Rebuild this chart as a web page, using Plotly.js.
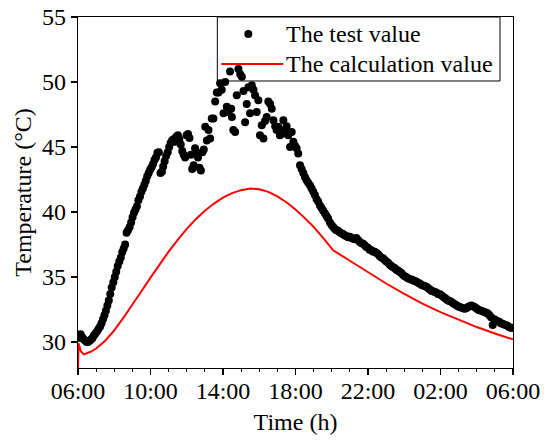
<!DOCTYPE html>
<html>
<head>
<meta charset="utf-8">
<script src="https://cdn.plot.ly/plotly-3.0.1.min.js"></script>
<style>html,body{margin:0;padding:0;background:#fff;}#chart{width:544px;height:448px;}</style>
</head>
<body>
<div id="chart"></div>
<script>
// Hours elapsed since 06:00
const testHours = [0.02,0.08,0.14,0.2,0.26,0.32,0.4,0.48,0.56,0.64,0.72,0.8,0.88,0.96,1.05,1.13,1.22,1.3,1.38,1.46,1.54,1.62,1.7,1.78,1.86,1.95,2.03,2.11,2.19,2.28,2.36,2.44,2.52,2.6,2.68,2.76,2.85,2.93,3.01,3.09,3.17,3.25,3.33,3.42,3.5,3.58,3.66,3.74,3.82,3.9,3.98,4.06,4.14,4.22,4.3,4.38,4.46,4.55,4.63,4.7,4.78,4.86,4.95,5.03,5.11,5.19,5.27,5.35,5.43,5.51,5.59,5.67,5.75,5.83,5.91,5.99,6.07,6.15,6.23,6.3,6.38,6.46,6.54,6.62,6.7,6.78,6.86,6.94,7.02,7.11,7.2,7.29,7.38,7.47,7.57,7.66,7.75,7.84,7.93,8.03,8.12,8.21,8.3,8.39,8.45,8.49,8.57,8.67,8.76,8.85,8.95,9.04,9.13,9.22,9.31,9.4,9.49,9.59,9.68,9.77,9.86,9.95,10.04,10.14,10.23,10.32,10.41,10.5,10.6,10.69,10.78,10.88,10.96,11.05,11.14,11.24,11.33,11.42,11.51,11.6,11.7,11.79,11.88,11.97,12.06,12.15,12.25,12.34,12.43,12.52,12.61,12.7,12.8,12.89,12.98,13.07,13.16,13.25,13.35,13.44,13.53,13.62,13.71,13.8,13.9,13.99,14.08,14.17,14.26,14.35,14.44,14.54,14.63,14.72,14.81,14.9,15.0,15.09,15.18,15.27,15.36,15.45,15.55,15.64,15.73,15.82,15.91,16.0,16.09,16.19,16.28,16.37,16.47,16.56,16.65,16.74,16.83,16.92,17.01,17.11,17.2,17.29,17.38,17.47,17.56,17.65,17.74,17.84,17.93,18.02,18.11,18.2,18.3,18.39,18.48,18.57,18.66,18.76,18.85,18.94,19.03,19.12,19.22,19.31,19.4,19.49,19.58,19.68,19.77,19.86,19.95,20.04,20.13,20.22,20.32,20.41,20.5,20.59,20.68,20.78,20.87,20.96,21.05,21.14,21.24,21.33,21.42,21.51,21.6,21.7,21.79,21.88,21.97,22.06,22.15,22.25,22.34,22.43,22.52,22.61,22.7,22.79,22.88,22.97,23.06,23.15,23.24,23.33,23.42,23.51,23.6,23.69,23.78,23.87,23.96];
const testValues = [30.3,30.5,30.6,30.4,30.3,30.2,30.1,30.0,30.0,30.1,30.2,30.3,30.5,30.65,30.8,31.0,31.2,31.45,31.75,32.05,32.4,32.8,33.2,33.7,34.2,34.6,35.0,35.4,35.85,36.2,36.5,36.9,37.2,37.5,38.4,38.6,38.85,39.2,39.6,39.95,40.2,40.45,40.9,41.2,41.55,41.8,42.1,42.4,42.75,43.0,43.25,43.45,43.7,44.0,44.2,44.55,44.6,43.0,43.1,43.5,43.9,44.3,44.6,45.0,45.3,45.5,45.6,45.4,45.8,45.9,45.6,45.2,44.7,44.4,44.2,45.9,46.0,45.7,44.4,43.3,43.6,44.9,44.5,44.2,43.4,43.2,44.6,44.8,46.55,45.5,46.3,45.65,47.2,47.2,48.5,49.2,49.2,49.9,49.4,47.6,50.0,48.1,47.7,50.8,47.95,47.3,46.3,46.15,48.98,51.0,50.6,50.4,49.3,46.9,48.3,49.6,47.6,49.75,49.4,48.98,47.7,48.6,45.9,46.67,45.65,47.0,47.3,48.5,48.3,47.95,47.05,46.6,46.3,46.55,45.9,46.0,47.05,46.3,46.6,45.9,45.0,46.15,45.4,45.1,44.9,44.5,43.6,43.3,43.0,42.7,42.45,42.25,42.05,41.8,41.55,41.3,41.0,40.8,40.5,40.3,40.1,39.9,39.7,39.5,39.2,39.0,38.85,38.7,38.6,38.55,38.45,38.34,38.3,38.2,38.15,38.05,38.1,38.0,37.95,37.9,38.0,37.85,37.7,37.6,37.55,37.45,37.3,37.25,37.1,37.05,36.95,36.95,36.85,36.75,36.6,36.5,36.45,36.3,36.2,36.1,35.95,35.85,35.75,35.7,35.55,35.5,35.4,35.3,35.15,35.05,35.0,34.9,34.85,34.8,34.75,34.7,34.65,34.55,34.5,34.4,34.35,34.3,34.25,34.15,34.05,33.95,33.9,33.85,33.8,33.7,33.7,33.6,33.5,33.4,33.3,33.2,33.15,33.1,33.0,32.9,32.85,32.75,32.7,32.65,32.6,32.55,32.6,32.7,32.75,32.8,32.75,32.7,32.6,32.5,32.45,32.4,32.35,32.3,32.25,32.2,32.05,31.9,31.3,31.75,31.65,31.6,31.55,31.45,31.4,31.35,31.3,31.25,31.15,31.1,31.1];

const calcHours = [0,0.03,0.15,0.32,0.7,1.0,1.5,2.0,2.5,3.0,3.5,4.0,4.5,5.0,5.5,6.0,6.5,7.0,7.5,8.0,8.5,9.0,9.5,10.0,10.5,11.0,11.5,12.0,12.5,13.0,13.5,14.08,15,16,17,18,19,20,21,22,23,24];
const calcValues = [28.0,29.9,29.3,29.05,29.25,29.5,30.1,30.9,31.85,32.85,33.9,34.95,36.0,36.95,37.85,38.7,39.45,40.1,40.65,41.1,41.45,41.68,41.8,41.75,41.55,41.2,40.75,40.2,39.55,38.85,38.05,37.05,36.25,35.35,34.5,33.7,32.95,32.3,31.7,31.15,30.65,30.2];

const xTickVals = [0,4,8,12,16,20,24];
const xTickText = ['06:00','10:00','14:00','18:00','22:00','02:00','06:00'];
const seriesNames = ['The test value', 'The calculation value'];

const FONT = '"Liberation Serif", "Times New Roman", Times, serif';

const traces = [
  {x: testHours, y: testValues, type: 'scatter', mode: 'markers', name: seriesNames[0],
   marker: {color: '#000', size: 8}, showlegend: false},
  {x: calcHours, y: calcValues, type: 'scatter', mode: 'lines', name: seriesNames[1],
   line: {color: '#ff0000', width: 2}, showlegend: false}
];

// Hand-drawn legend box (paper coordinates)
const lgX0 = 0.3203, lgX1 = 0.9701, lgY0 = 0.8177, lgY1 = 1.0;
const row1 = 0.9516, row2 = 0.8661;
const shapes = [
  {type: 'rect', xref: 'paper', yref: 'paper', x0: lgX0, x1: lgX1, y0: lgY0, y1: lgY1,
   line: {color: '#000', width: 1}, fillcolor: 'rgba(255,255,255,0)', layer: 'below'},
  {type: 'circle', xref: 'paper', yref: 'paper', xsizemode: 'pixel', ysizemode: 'pixel',
   xanchor: 0.3915, yanchor: row1, x0: -4, x1: 4, y0: -4, y1: 4,
   fillcolor: '#000', line: {color: '#000', width: 0}, layer: 'above'},
  {type: 'line', xref: 'paper', yref: 'paper', x0: 0.3295, x1: 0.4719, y0: row2, y1: row2,
   line: {color: '#ff0000', width: 2}, layer: 'above'}
];
const annotations = [
  {xref: 'paper', yref: 'paper', x: 0.4742, y: row1, xanchor: 'left', yanchor: 'middle',
   text: seriesNames[0], showarrow: false, font: {family: FONT, size: 24, color: '#000'}},
  {xref: 'paper', yref: 'paper', x: 0.4742, y: row2, xanchor: 'left', yanchor: 'middle',
   text: seriesNames[1], showarrow: false, font: {family: FONT, size: 24, color: '#000'}}
];

const layout = {
  width: 544, height: 448,
  margin: {l: 77.5, r: 31, t: 17, b: 80},
  paper_bgcolor: '#fff', plot_bgcolor: '#fff',
  font: {family: FONT, size: 24, color: '#000'},
  showlegend: false,
  shapes: shapes,
  annotations: annotations,
  xaxis: {
    range: [0, 24], tickmode: 'array', tickvals: xTickVals, ticktext: xTickText,
    ticks: 'outside', ticklen: 6, tickwidth: 1.3, tickcolor: '#000', ticklabelstandoff: -5,
    minor: {tickmode: 'linear', tick0: 0, dtick: 1, ticks: 'outside', ticklen: 3, tickwidth: 1, tickcolor: '#000', showgrid: false},
    showline: true, linecolor: '#000', linewidth: 1.3, mirror: true,
    showgrid: false, zeroline: false,
    tickfont: {family: FONT, size: 24, color: '#000'},
    title: {text: 'Time (h)', font: {family: FONT, size: 24, color: '#000'}, standoff: 10},
    automargin: false
  },
  yaxis: {
    range: [28, 55], tick0: 30, dtick: 5,
    ticks: 'outside', ticklen: 6, tickwidth: 1.3, tickcolor: '#000',
    showline: true, linecolor: '#000', linewidth: 1.3, mirror: true,
    showgrid: false, zeroline: false,
    tickfont: {family: FONT, size: 24, color: '#000'},
    title: {text: 'Temperature (°C)', font: {family: FONT, size: 24, color: '#000'}, standoff: 3},
    automargin: false
  }
};

Plotly.newPlot('chart', traces, layout, {displayModeBar: false, staticPlot: true});
</script>
</body>
</html>
